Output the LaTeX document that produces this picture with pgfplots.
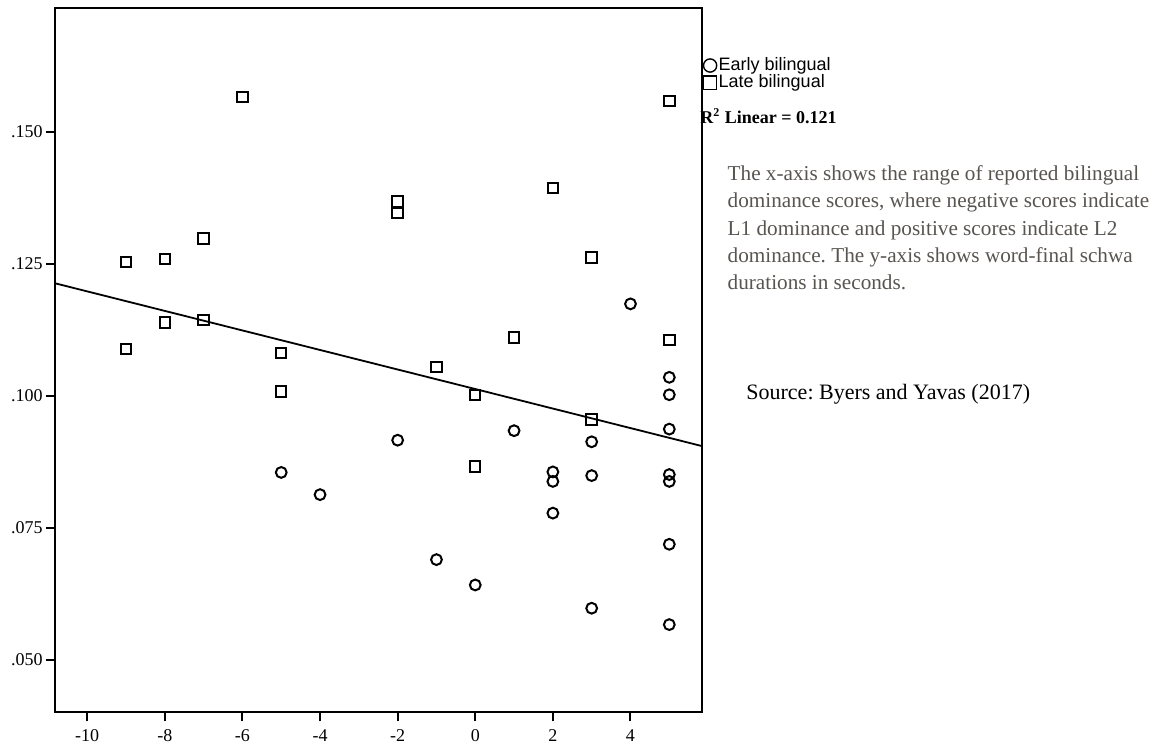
\documentclass[border=0pt]{standalone}
\usepackage{fontspec}
\setmainfont{Liberation Serif}
\newfontfamily\arial{Liberation Sans}
\usepackage{pgfplots}
\pgfplotsset{compat=1.18}
\definecolor{paratext}{RGB}{88,84,80}
\frenchspacing
\begin{document}
\begin{tikzpicture}
\useasboundingbox (-27.5pt,-16.35pt) rectangle (558.5pt,356.15pt);
\begin{axis}[
  at={(0pt,0pt)}, anchor=south west,
  scale only axis,
  width=323.35pt, height=352.15pt,
  xmin=-10.83, xmax=5.835,
  ymin=0.0401, ymax=0.1734,
  axis line style={line width=1pt},
  xtick={-10,-8,-6,-4,-2,0,2,4},
  xticklabels={-10,-8,-6,-4,-2,0,2,4},
  ytick={0.05,0.075,0.1,0.125,0.15},
  yticklabels={.050,.075,.100,.125,.150},
  tick align=outside,
  xtick pos=bottom, ytick pos=left,
  major tick length=4.5pt,
  every tick/.style={black, line width=1pt},
  tick label style={font=\fontsize{9}{10}\selectfont},
  yticklabel style={inner sep=1.5pt},
  xticklabel style={inner sep=4pt},
  legend style={at={(1.0028,0.9297)}, anchor=north west, draw=none, fill=none,
    inner sep=0pt, outer sep=0pt, row sep=0.6pt, column sep=1pt,
    font=\arial\fontsize{9}{10}\selectfont,
    nodes={inner sep=0pt}},
  legend cell align=left,
  legend image code/.code={\draw[#1, mark size=3.3pt, mark options={line width=0.7pt, black, fill=none}] plot coordinates {(0pt,0pt)};},
]
\addplot[only marks, mark=o, mark size=2.7pt, mark options={line width=1pt, black}] coordinates {
(-5,.0855) (-4,.0813) (-2,.0916) (-1,.0690) (0,.0642) (1,.0934)
(2,.0856) (2,.0838) (2,.0778) (3,.0913) (3,.0849) (3,.0598)
(4,.1174) (5,.1035) (5,.1002) (5,.0937) (5,.0851) (5,.0838)
(5,.0719) (5,.0567)
};
\addlegendentry{Early bilingual}
\addplot[only marks, mark=square, mark size=2.6pt, mark options={line width=1pt, black}] coordinates {
(-9,.1253) (-9,.1089) (-8,.1259) (-8,.1139) (-7,.1298) (-7,.1143)
(-6,.1566) (-5,.1081) (-5,.1008) (-2,.1368) (-2,.1346) (-1,.1055)
(0,.1001) (0,.0866) (1,.1110) (2,.1393) (3,.1262) (3,.0955)
(5,.1558) (5,.1106)
};
\addlegendentry{Late bilingual}
\addplot[black, line width=0.9pt, forget plot] coordinates {(-10.83,.1213) (5.835,.0905)};
\end{axis}
\node[anchor=base west, inner sep=0pt, font=\fontsize{9}{10}\selectfont\bfseries] at (322.5pt,294.15pt) {R\textsuperscript{2} Linear = 0.121};
\begin{scope}[every node/.style={anchor=base west, inner sep=0pt, text=paratext, font=\fontsize{10.6}{12}\selectfont}]
\node at (336.15pt,265.8pt) {The x-axis shows the range of reported bilingual};
\node at (336.15pt,252.15pt) {dominance scores, where negative scores indicate};
\node at (336.15pt,238.5pt) {L1 dominance and positive scores indicate L2};
\node at (336.15pt,224.85pt) {dominance. The y-axis shows word-final schwa};
\node at (336.15pt,211.2pt) {durations in seconds.};
\end{scope}
\node[anchor=base west, inner sep=0pt, font=\fontsize{11}{13}\selectfont] at (345.5pt,156.5pt) {Source: Byers and Yavas (2017)};
\end{tikzpicture}
\end{document}
